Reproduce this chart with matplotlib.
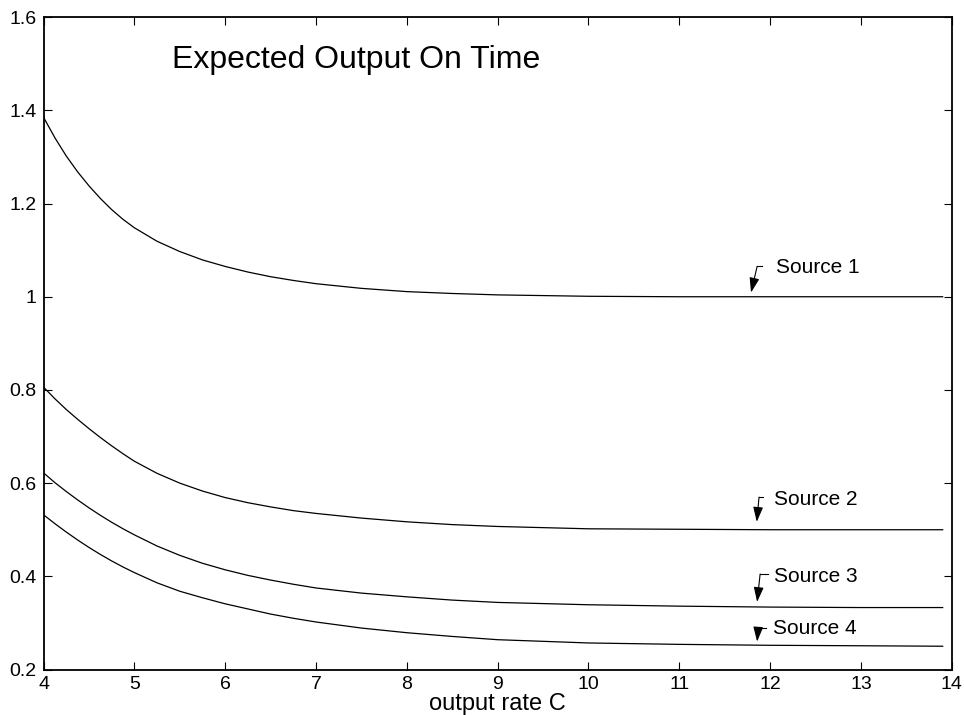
import matplotlib.pyplot as plt

plt.rcParams['font.family'] = ['Liberation Sans', 'DejaVu Sans']

rate = [4, 4.125, 4.25, 4.375, 4.5, 4.625, 4.75, 4.875, 5, 5.25, 5.5, 5.75, 6,
        6.25, 6.5, 6.75, 7, 7.5, 8, 8.5, 9, 10, 11, 12, 13, 13.9]

source1 = [1.385, 1.341, 1.302, 1.268, 1.238, 1.211, 1.187, 1.166, 1.148, 1.119,
           1.097, 1.079, 1.065, 1.053, 1.043, 1.035, 1.028, 1.018, 1.011, 1.007,
           1.004, 1.001, 1.000, 1.000, 1.000, 1.000]
source2 = [0.806, 0.781, 0.758, 0.737, 0.717, 0.698, 0.680, 0.663, 0.647, 0.621,
           0.600, 0.583, 0.569, 0.558, 0.549, 0.541, 0.535, 0.525, 0.517, 0.511,
           0.507, 0.502, 0.501, 0.500, 0.500, 0.500]
source3 = [0.622, 0.601, 0.582, 0.564, 0.547, 0.531, 0.516, 0.502, 0.489, 0.465,
           0.445, 0.428, 0.414, 0.402, 0.392, 0.383, 0.375, 0.364, 0.356, 0.349,
           0.344, 0.339, 0.336, 0.334, 0.333, 0.333]
source4 = [0.532, 0.513, 0.495, 0.478, 0.462, 0.447, 0.433, 0.420, 0.408, 0.386,
           0.368, 0.354, 0.341, 0.330, 0.319, 0.310, 0.302, 0.289, 0.279, 0.271,
           0.264, 0.257, 0.254, 0.252, 0.251, 0.250]

labels = ["Source 1", "Source 2", "Source 3", "Source 4"]
# label text position, bent-arrow corner, arrow tip
text_pos = [(12.06, 1.063), (12.044, 0.565), (12.044, 0.400), (12.03, 0.287)]
corner = [(11.857, 1.065), (11.878, 0.570), (11.89, 0.405), (11.868, 0.289)]
corner_end = [11.912, 11.922, 11.98, 11.956]
tips = [(11.79, 1.009), (11.853, 0.517), (11.857, 0.345), (11.857, 0.260)]

fig = plt.figure(figsize=(9.64, 7.15), dpi=100)
ax = fig.add_axes([0.0452, 0.0636, 0.9421, 0.9124])

for ys in [source1, source2, source3, source4]:
    ax.plot(rate, ys, color="black", lw=0.9)

for lab, tp, c, ce, tip in zip(labels, text_pos, corner, corner_end, tips):
    ax.plot([c[0], ce], [c[1], c[1]], color="black", lw=0.8)
    ax.annotate("", xy=tip, xytext=c,
                arrowprops=dict(arrowstyle="-|>,head_length=0.9,head_width=0.3",
                                color="black", lw=0.8, shrinkA=0, shrinkB=0))
    ax.text(tp[0], tp[1], lab, fontsize=15, va="center", ha="left")

ax.text(5.414, 1.507, "Expected Output On Time", fontsize=23, va="center", ha="left")

ax.set_xlim(4, 14)
ax.set_ylim(0.2, 1.6)
ax.set_xticks(range(4, 15))
ax.set_yticks([0.2, 0.4, 0.6, 0.8, 1.0, 1.2, 1.4, 1.6])
ax.set_yticklabels(["0.2", "0.4", "0.6", "0.8", "1", "1.2", "1.4", "1.6"])
ax.tick_params(direction="in", top=True, right=True, length=6, width=0.8,
               labelsize=14, pad=5)
for s in ax.spines.values():
    s.set_linewidth(1.3)
ax.set_xlabel("output rate C", fontsize=17, labelpad=0)

fig.savefig("out.png", dpi=100)
